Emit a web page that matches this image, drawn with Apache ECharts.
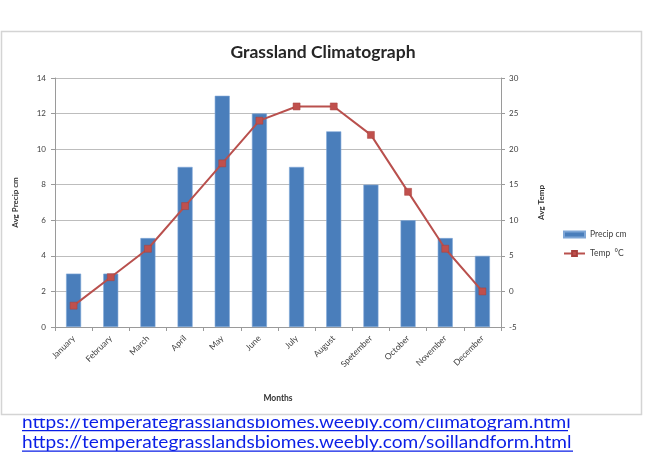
<!DOCTYPE html>
<html>
<head>
  <meta charset="utf-8">
  <script src="https://cdn.jsdelivr.net/npm/echarts@6.0.0/dist/echarts.min.js"></script>
  <style>
    body {
      margin: 0;
      padding: 0;
      background-color: white;
    }
    #main {
      width: 662px;
      height: 457px;
    }
  </style>
  <title>Grassland Climatograph</title>
</head>
<body>
<div id="main"></div>
<script>
  // data
  var months = ['January', 'February', 'March', 'April', 'May', 'June', 'July',
    'August', 'Spetember', 'October', 'November', 'December'];
  var precip = [3, 3, 5, 9, 13, 12, 9, 11, 8, 6, 5, 4];
  var temp = [-2, 2, 6, 12, 18, 24, 26, 26, 22, 14, 6, 0];
  var links = [
    'https://temperategrasslandsbiomes.weebly.com/climatogram.html',
    'https://temperategrasslandsbiomes.weebly.com/soillandform.html'
  ];

  var font = 'Lato, "Open Sans", sans-serif';
  var linkBlue = '#0a1ee6';

  var myChart = echarts.init(document.getElementById('main'), null, { renderer: 'canvas' });

  myChart.setOption({
    backgroundColor: '#ffffff',
    animation: false,
    textStyle: { fontFamily: font },
    title: {
      text: 'Grassland Climatograph',
      left: 318,
      textAlign: 'center',
      top: 38,
      textStyle: { fontSize: 17.5, fontWeight: 'bold', color: '#262626', fontFamily: font }
    },
    legend: {
      orient: 'vertical',
      left: 558,
      top: 225,
      itemGap: 10,
      itemWidth: 21,
      itemHeight: 6,
      textStyle: { fontSize: 8.5, color: '#404040', fontFamily: font },
      data: [
        { name: 'Precip cm', icon: 'rect' },
        { name: 'Temp  \u00b0C' }
      ]
    },
    grid: {
      left: 55,
      right: 161,
      top: 78,
      bottom: 130
    },
    xAxis: {
      type: 'category',
      data: months,
      name: 'Months',
      nameLocation: 'middle',
      nameGap: 67,
      nameTextStyle: { fontSize: 8.5, fontWeight: 'bold', color: '#333' },
      axisLine: { lineStyle: { color: '#9a9a9a' } },
      axisTick: { show: true, length: 4, lineStyle: { color: '#9a9a9a' } },
      axisLabel: { rotate: 45, fontSize: 8.5, color: '#404040', margin: 10, interval: 0 }
    },
    yAxis: [
      {
        type: 'value',
        min: 0,
        max: 14,
        interval: 2,
        name: 'Avg Precip cm',
        nameLocation: 'middle',
        nameGap: 36,
        nameRotate: 90,
        nameTextStyle: { fontSize: 8, fontWeight: 'bold', color: '#333' },
        axisLine: { show: true, lineStyle: { color: '#9a9a9a' } },
        axisTick: { show: true, length: 4, lineStyle: { color: '#9a9a9a' } },
        axisLabel: { fontSize: 8, color: '#404040', margin: 9 },
        splitLine: { lineStyle: { color: '#bdbdbd' } }
      },
      {
        type: 'value',
        min: -5,
        max: 30,
        interval: 5,
        name: 'Avg Temp',
        nameLocation: 'middle',
        nameGap: 36,
        nameRotate: 90,
        nameTextStyle: { fontSize: 8, fontWeight: 'bold', color: '#333' },
        axisLine: { show: true, lineStyle: { color: '#9a9a9a' } },
        axisTick: { show: true, length: 4, lineStyle: { color: '#9a9a9a' } },
        axisLabel: { fontSize: 8, color: '#404040', margin: 8 },
        splitLine: { show: false }
      }
    ],
    series: [
      {
        name: 'Precip cm',
        type: 'bar',
        yAxisIndex: 0,
        barWidth: 15,
        itemStyle: { color: '#4a7ebb', borderColor: '#7ea6d6', borderWidth: 0.6 },
        data: precip
      },
      {
        name: 'Temp  \u00b0C',
        type: 'line',
        yAxisIndex: 1,
        symbol: 'rect',
        symbolSize: 7,
        lineStyle: { color: '#b9504d', width: 2 },
        itemStyle: { color: '#c0504d', borderColor: '#a8403d', borderWidth: 0.5 },
        data: temp
      }
    ],
    graphic: [
      {
        type: 'text',
        z: -30,
        x: 22,
        y: 413,
        scaleX: 1.06,
        style: { text: links[0], fontSize: 18, fill: linkBlue, fontFamily: font }
      },
      {
        type: 'rect',
        z: -30,
        shape: { x: 22, y: 430, width: 546, height: 1.2 },
        style: { fill: linkBlue }
      },
      {
        type: 'text',
        z: -30,
        x: 22,
        y: 433,
        scaleX: 1.06,
        style: { text: links[1], fontSize: 18, fill: linkBlue, fontFamily: font }
      },
      {
        type: 'rect',
        z: -30,
        shape: { x: 22, y: 450.5, width: 551, height: 1.2 },
        style: { fill: linkBlue }
      },
      {
        // white band cutting off the top of the first link line
        type: 'rect',
        z: -25,
        shape: { x: 0, y: 410, width: 662, height: 8.5 },
        style: { fill: '#ffffff' }
      },
      {
        type: 'rect',
        z: -20,
        shape: { x: 1.5, y: 31.5, width: 640, height: 383 },
        style: { fill: '#ffffff', stroke: '#d4d4d4', lineWidth: 1.5 }
      }
    ]
  });
</script>
</body>
</html>
